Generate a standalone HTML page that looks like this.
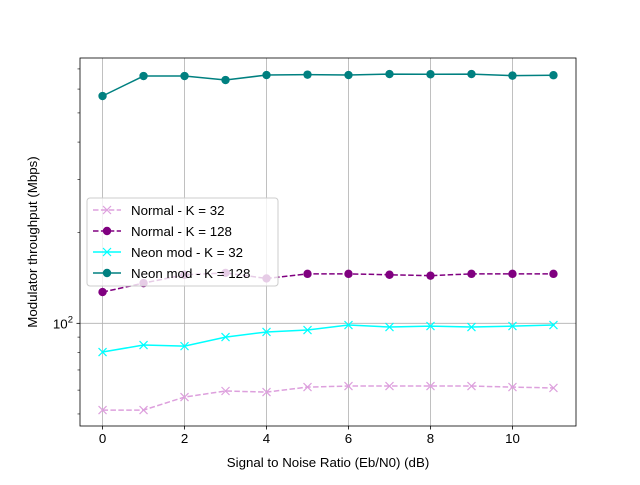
<!DOCTYPE html>
<html><head><meta charset="utf-8"><style>body{margin:0;background:#fff}svg{font-family:"Liberation Sans","DejaVu Sans",sans-serif}</style></head>
<body>
<svg id="c" width="640" height="480"></svg>
<script>
const xs=[0,1,2,3,4,5,6,7,8,9,10,11];
const normal32=[51.5,51.5,56.9,59.6,59.1,61.4,61.9,61.9,61.9,61.9,61.4,61.0];
const normal128=[127,136,145,147,141,146,146,145,144,146,146,146];
const neon32=[80.3,84.7,84.0,90,93.6,95,98.7,97.2,97.9,97.2,97.9,98.7];
const neon128=[569,663,663,643,668,670,668,673,672,673,665,667];
const xTicks=[0,2,4,6,8,10];
const series=[
 {name:"Normal - K = 32",data:normal32,color:"#dda0dd",dash:"5.5,2.4",marker:"x"},
 {name:"Normal - K = 128",data:normal128,color:"#800080",dash:"5.5,2.4",marker:"o"},
 {name:"Neon mod - K = 32",data:neon32,color:"#00ffff",dash:"",marker:"x"},
 {name:"Neon mod - K = 128",data:neon128,color:"#008080",dash:"",marker:"o"}];
const NS="http://www.w3.org/2000/svg",svg=document.getElementById('c');
const L=80,R=576,T=58,B=426;
const xmin=-0.55,xmax=11.55,ymin=45.6,ymax=761;
const X=v=>L+(v-xmin)/(xmax-xmin)*(R-L);
const Y=v=>B-(Math.log10(v)-Math.log10(ymin))/(Math.log10(ymax)-Math.log10(ymin))*(B-T);
function el(t,a,p){const e=document.createElementNS(NS,t);for(const k in a)e.setAttribute(k,a[k]);(p||svg).appendChild(e);return e;}
xTicks.forEach(t=>{
 const g=el('line',{x1:X(t),x2:X(t),y1:T,y2:B,stroke:'#b0b0b0','stroke-width':0.8});
 
 
 el('line',{x1:X(t),x2:X(t),y1:B,y2:B+3.5,stroke:'#000','stroke-width':0.8});
 const tx=el('text',{x:X(t),y:B+17,'text-anchor':'middle','font-size':13.3});tx.textContent=t;
 
 
});
el('line',{x1:L,x2:R,y1:Y(100),y2:Y(100),stroke:'#b0b0b0','stroke-width':0.8});
el('line',{x1:L-3.5,x2:L,y1:Y(100),y2:Y(100),stroke:'#000','stroke-width':0.8});
const yl=el('text',{x:L-7,y:Y(100)+5,'text-anchor':'end','font-size':13.3});yl.innerHTML='10<tspan dy="-6" font-size="9.5">2</tspan>';


[50,60,70,80,90,200,300,400,500,600,700].forEach(v=>{el('line',{x1:L-2.5,x2:L,y1:Y(v),y2:Y(v),stroke:'#000','stroke-width':0.6});});
function marker(m,x,y,c,p){
 if(m==='o')return el('circle',{cx:x,cy:y,r:4.2,fill:c},p);
 const g=el('g',{stroke:c,'stroke-width':1.2},p);
 el('line',{x1:x-4,y1:y-4,x2:x+4,y2:y+4},g);el('line',{x1:x-4,y1:y+4,x2:x+4,y2:y-4},g);return g;
}
series.forEach((s,i)=>{
 const g=el('g',{});
 
 
 el('polyline',{points:xs.map((x,j)=>X(x)+','+Y(s.data[j])).join(' '),fill:'none',stroke:s.color,'stroke-width':1.5,'stroke-dasharray':s.dash},g);
 xs.forEach((x,j)=>marker(s.marker,X(x),Y(s.data[j]),s.color,g));
});
el('rect',{x:L,y:T,width:R-L,height:B-T,fill:'none',stroke:'#000','stroke-width':0.8});
const lg=el('g',{});


el('rect',{x:87,y:198,width:191,height:88,rx:3,fill:'#fff','fill-opacity':0.8,stroke:'#ccc'},lg);
series.forEach((s,i)=>{
 const y=210+i*21;
 el('line',{x1:93,x2:121,y1:y,y2:y,stroke:s.color,'stroke-width':1.5,'stroke-dasharray':s.dash},lg);
 marker(s.marker,107,y,s.color,lg);
 const t=el('text',{x:131,y:y+5,'font-size':13.3},lg);t.textContent=s.name;
 
 
});
const xt=el('text',{x:(L+R)/2,y:467,'text-anchor':'middle','font-size':13.3});xt.textContent='Signal to Noise Ratio (Eb/N0) (dB)';


const yt=el('text',{x:0,y:0,'text-anchor':'middle','font-size':13.3,transform:'translate(37,'+((T+B)/2)+') rotate(-90)'});yt.textContent='Modulator throughput (Mbps)';


</script>
</body></html>
